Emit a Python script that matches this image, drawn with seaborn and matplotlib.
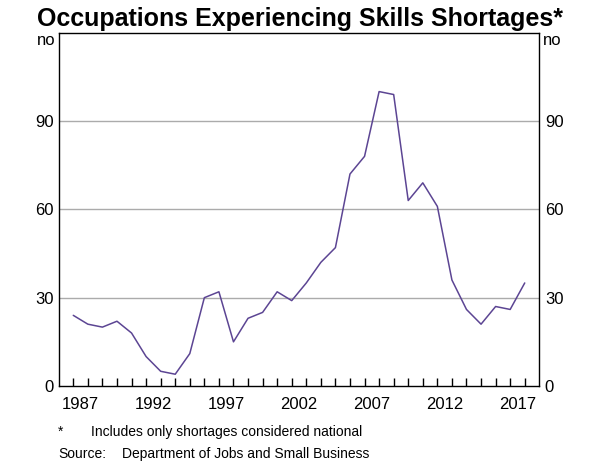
import numpy as np
import pandas as pd
import matplotlib
matplotlib.use('Agg')
import matplotlib.pyplot as plt
import seaborn as sns

# annual data
years = list(range(1987, 2019))
shortages = [24, 21, 20, 22, 18, 10, 5, 4, 11, 30, 32, 15, 23, 25, 32, 29,
             35, 42, 47, 72, 78, 100, 99, 63, 69, 61, 36, 26, 21, 27, 26, 35]
ytick_vals = [0, 30, 60, 90]
xlabel_years = [1987, 1992, 1997, 2002, 2007, 2012, 2017]

df = pd.DataFrame({'Year': years, 'Occupations': shortages})

sns.set_style('white')
plt.rcParams['font.family'] = ['Liberation Sans', 'DejaVu Sans']
plt.rcParams['text.color'] = 'black'
plt.rcParams['xtick.color'] = 'black'
plt.rcParams['ytick.color'] = 'black'

fig = plt.figure(figsize=(6, 4.66), dpi=100)
ax = fig.add_axes([59.3 / 600, 1 - 386 / 466, 480 / 600, 353.3 / 466])

sns.lineplot(data=df, x='Year', y='Occupations', ax=ax, color='#5c4593', linewidth=1.1)

ax.set_xlim(1986.04, 2019)
ax.set_ylim(0, 120)

# gridlines
for v in ytick_vals[1:]:
    ax.axhline(v, color='#ababab', linewidth=1.0, zorder=0)

# x ticks at year boundaries, labels in middle of year
ax.set_xticks(years)
ax.set_xticklabels([])
ax.tick_params(axis='x', which='major', bottom=True, direction='in', length=6, width=1,
               color='black')
ax.set_xticks([y + 0.5 for y in xlabel_years], minor=True)
ax.set_xticklabels([str(y) for y in xlabel_years], minor=True, fontsize=12)
ax.tick_params(axis='x', which='minor', bottom=True, length=0, pad=8, labelcolor='black')

ax.set_yticks(ytick_vals)
ax.set_yticklabels([str(v) for v in ytick_vals], fontsize=12)
ax.tick_params(axis='y', length=0, pad=4, labelleft=True, labelright=True, labelcolor='black')

ax.set_xlabel('')
ax.set_ylabel('')
for s in ax.spines.values():
    s.set_color('black')
    s.set_linewidth(1)

# unit labels
ax.text(-0.008, 1.0, 'no', transform=ax.transAxes, ha='right', va='top', fontsize=12)
ax.text(1.008, 1.0, 'no', transform=ax.transAxes, ha='left', va='top', fontsize=12)

fig.text(0.5, 0.985, 'Occupations Experiencing Skills Shortages*', ha='center', va='top',
         fontsize=18, fontweight='bold')

fig.text(58 / 600, 1 - 432 / 466, '*', ha='left', va='center', fontsize=10)
fig.text(91 / 600, 1 - 432 / 466, 'Includes only shortages considered national', ha='left',
         va='center', fontsize=10)
fig.text(58 / 600, 1 - 454 / 466, 'Source:', ha='left', va='center', fontsize=10)
fig.text(122 / 600, 1 - 454 / 466, 'Department of Jobs and Small Business', ha='left',
         va='center', fontsize=10)

fig.savefig('out.png', dpi=100)
